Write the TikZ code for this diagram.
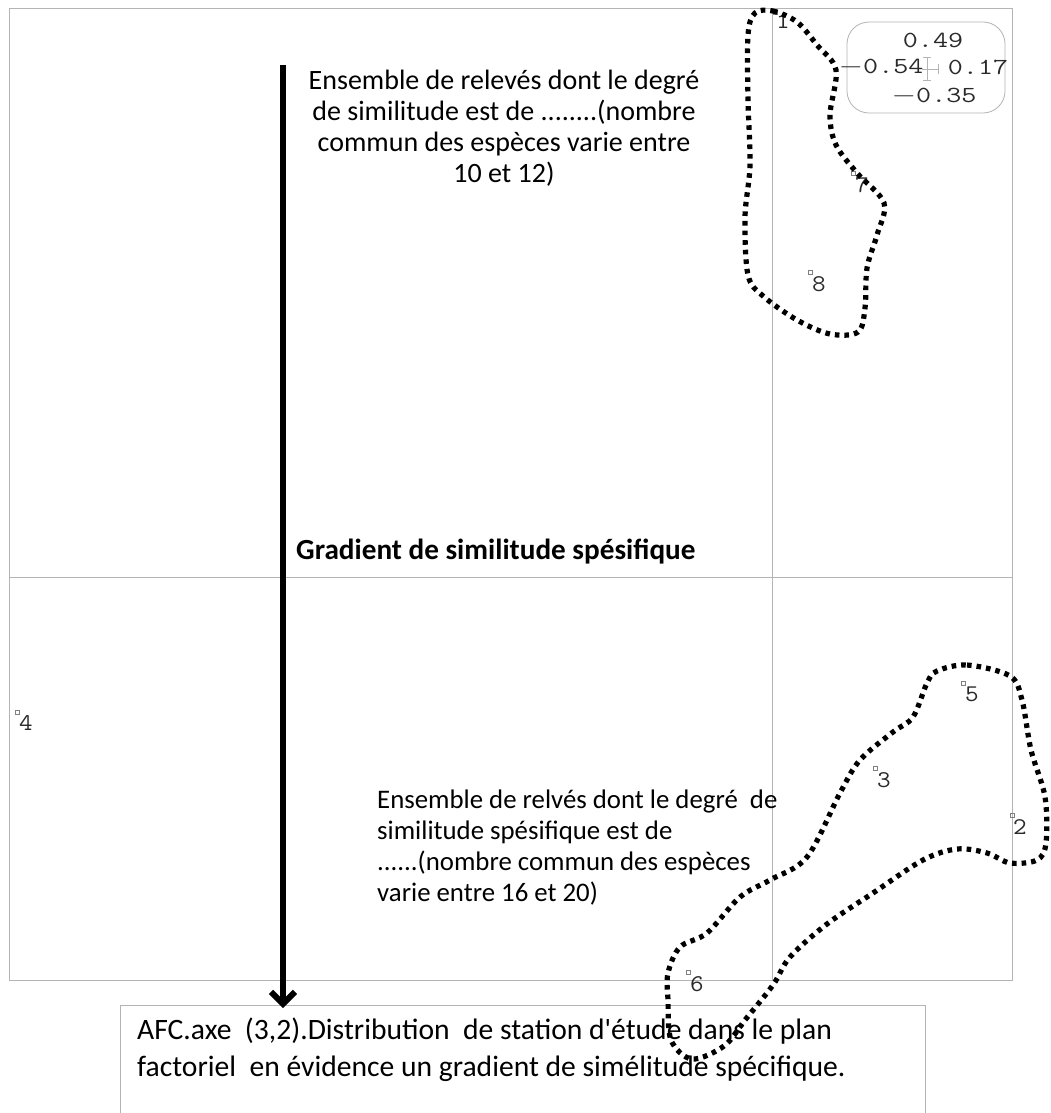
\documentclass[tikz,border=0pt]{standalone}
\usepackage{fontspec}
\usepackage{graphicx}
\newfontfamily\calib{Carlito}
\usetikzlibrary{arrows.meta}
\definecolor{framegray}{HTML}{B4B4B4}
\definecolor{labgray}{HTML}{2A2A2A}
\begin{document}
\begin{tikzpicture}[x=1pt,y=-1pt,
  frame/.style={draw=framegray, line width=1pt},
  blob/.style={draw=black, line width=5.2pt, dash pattern=on 4.6pt off 5pt},
  ptbox/.style={draw=gray, line width=0.6pt, minimum size=4pt, inner sep=0pt},
  lab/.style={anchor=north west, inner sep=0pt, text=labgray, font=\fontsize{24}{24}\selectfont\ttfamily},
  legnum/.style={inner sep=0pt, text=labgray, font=\fontsize{23}{23}\selectfont\ttfamily},
  txt/.style={inner sep=0pt, font=\calib\fontsize{28}{31}\selectfont},
]
\useasboundingbox[fill=white] (0,0) rectangle (1051,1113);

% plot frame and axes
\draw[frame] (9,9) rectangle (1012,980);
\draw[frame] (772,9) -- (772,980);
\draw[frame] (9,577) -- (1012,577);

% caption box (open at the bottom)
\draw[frame] (120,1113) -- (120,1005) -- (925,1005) -- (925,1113);

% legend box
\node[draw=framegray, line width=0.8pt, rounded corners=22pt, minimum width=158pt, minimum height=91pt] (leg) at (926,67.5) {};
\node[legnum] (ltop) at (933,40) {\scalebox{1.27}[1]{0.49}};
\node[legnum] (lleft) at (881,67) {\scalebox{1.27}[1]{$-$0.54}};
\node[legnum] (lright) at (978,67) {\scalebox{1.27}[1]{0.17}};
\node[legnum] (lbot) at (934,96) {\scalebox{1.27}[1]{$-$0.35}};
\draw[framegray, line width=0.8pt] (922,69) -- (938,69) (938,64) -- (938,74)
  (927,57) -- (927,80) (923,57) -- (931,57) (923,80) -- (931,80);

% points
\node[ptbox] (p1) at (775,12) {};
\node[lab] (l1) at (776,13) {\scalebox{1.1}[1]{1}};
\node[ptbox] (p7) at (853,173) {};
\node[lab] (l7) at (855,177) {\scalebox{1.1}[1]{7}};
\node[ptbox] (p8) at (810,272) {};
\node[lab] (l8) at (812,276) {\scalebox{1.1}[1]{8}};
\node[ptbox] (p5) at (963,683) {};
\node[lab] (l5) at (965,687) {\scalebox{1.1}[1]{5}};
\node[ptbox] (p3) at (875,768) {};
\node[lab] (l3) at (877,772) {\scalebox{1.1}[1]{3}};
\node[ptbox] (p2) at (1012,815) {};
\node[lab] (l2) at (1013,819) {\scalebox{1.1}[1]{2}};
\node[ptbox] (p6) at (688,972) {};
\node[lab] (l6) at (690,976) {\scalebox{1.1}[1]{6}};
\node[ptbox] (p4) at (17,712) {};
\node[lab] (l4) at (19,715) {\scalebox{1.1}[1]{4}};

% dotted groupings
\draw[blob] plot[smooth cycle, tension=0.55] coordinates {
  (755,13) (773,11) (797,22) (817,45) (836,70) (830,115) (836,145) (857,173)
  (884,203) (877,235) (867,268) (865,308) (858,332) (830,334) (797,320)
  (763,296) (748,275) (745,217) (750,165) (748,100) (748,35)};
\draw[blob] plot[smooth cycle, tension=0.55] coordinates {
  (937,671) (967,665) (1010,676) (1022,700) (1031,750) (1045,797) (1046,843)
  (1037,860) (1010,863) (987,853) (957,849) (923,860) (873,893) (827,924)
  (790,957) (773,985) (745,1020) (724,1046) (692,1059) (671,1040) (668,1000)
  (668,973) (680,947) (707,933) (740,897) (770,880) (807,857) (840,793)
  (860,760) (893,732) (913,717) (927,683)};

% gradient arrow
\coordinate (astart) at (283,65);
\coordinate (aend) at (283,1008);
\draw[line width=6pt, -{Straight Barb[length=12pt, width=24pt]}] (astart) -- (aend);

% texts
\node[txt, align=center, anchor=north] (ttop) at (504,70) {Ensemble de relevés dont le degré\\de similitude est de ........(nombre\\commun des espèces varie entre\\10 et 12)};
\node[txt, font=\calib\bfseries\fontsize{29.2}{31}\selectfont, anchor=west] (grad) at (296,552) {Gradient de similitude spésifique};
\node[txt, align=left, anchor=north west, font=\calib\fontsize{26.8}{31}\selectfont] (tbot) at (377,790) {Ensemble de relvés dont le degré\ \ de\\similitude spésifique est de\\......(nombre commun des espèces\\varie entre 16 et 20)};
\node[txt, align=left, anchor=north west, font=\calib\fontsize{29.6}{37}\selectfont] (cap) at (137,1018) {AFC.axe\ \ (3,2).Distribution\ \ de station d\textquotesingle étude dans le plan\\factoriel\ \ en évidence un gradient de simélitude spécifique.};
\end{tikzpicture}
\end{document}
